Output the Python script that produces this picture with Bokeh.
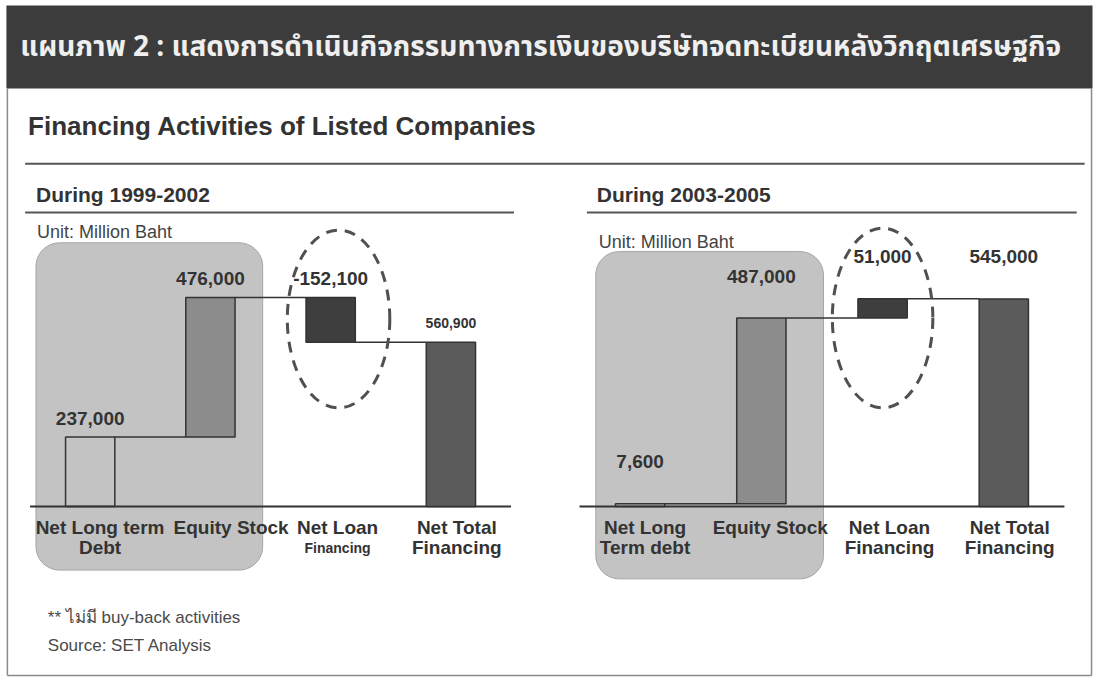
import numpy as np
from bokeh.plotting import figure
from bokeh.models import Range1d, ColumnDataSource
from bokeh.core.properties import value
from bokeh.embed import file_html
from bokeh.resources import INLINE

# ---------------- data ----------------
header_text = "แผนภาพ 2 : แสดงการดำเนินกิจกรรมทางการเงินของบริษัทจดทะเบียนหลังวิกฤตเศรษฐกิจ"
title_text = "Financing Activities of Listed Companies"
period_left = "During 1999-2002"
period_right = "During 2003-2005"
unit_text = "Unit: Million Baht"
categories_left = ["Net Long term\nDebt", "Equity Stock", "Net Loan\nFinancing", "Net Total\nFinancing"]
categories_right = ["Net Long\nTerm debt", "Equity Stock", "Net Loan\nFinancing", "Net Total\nFinancing"]
steps_left = [237000, 476000, -152100]
total_left = 560900
steps_right = [7600, 487000, 51000]
total_right = 545000
note_text = "**  ไม่มี buy-back activities"
source_text = "Source: SET Analysis"

# ---------------- layout ----------------
W, H = 1093, 679          # figure size (fits the window with the 8px page margin)
RW, RH = 1109, 695        # reference frame the layout coordinates refer to
FONT = value("Liberation Sans")
THAI = value("Noto Sans Thai")
TXT = "#333333"

p = figure(width=W, height=H, output_backend="svg", toolbar_location=None,
           x_axis_type=None, y_axis_type=None,
           x_range=Range1d(0, RW), y_range=Range1d(RH, 0),
           min_border=0, outline_line_color=None,
           background_fill_color="white", border_fill_color="white")
p.grid.visible = False

panels = [
    dict(name="L", cats=categories_left, steps=steps_left, total=total_left,
         x0=91, step=122, bar_w=50, scale=0.0003, base=518, lab_dy=-19,
         cat_dx=[10, 21, 7, 6], ell_dx=8,
         period=period_left, period_x=36, unit_x=37, unit_y=237,
         rect=(36, 248, 266, 583), uline=(25, 521), ell=(326, 104, 182),
         val_sizes=["19px", "19px", "19px", "14px"], small_second=[2]),
    dict(name="R", cats=categories_right, steps=steps_right, total=total_right,
         x0=649, step=123, bar_w=50, scale=0.00039, base=518, lab_dy=-42,
         cat_dx=[5, 9, 7, 6], ell_dx=0,
         period=period_right, period_x=605, unit_x=607, unit_y=247,
         rect=(604, 257, 835, 592), uline=(595, 1092), ell=(325, 102, 184),
         val_sizes=["19px", "19px", "19px", "19px"], small_second=[]),
]

x_ranges, y_ranges = {}, {}
for pn in panels:
    x_ranges[pn["name"]] = Range1d((0 - pn["x0"]) / pn["step"], (RW - pn["x0"]) / pn["step"])
    y_ranges[pn["name"]] = Range1d((pn["base"] - RH) / pn["scale"], (pn["base"] - 0) / pn["scale"])
p.extra_x_ranges = x_ranges
p.extra_y_ranges = y_ranges

# header band
p.quad(left=[6], right=[1108], top=[5], bottom=[90], fill_color="#3c3c3c", line_color=None)
p.text(x=[20], y=[48], text=[header_text], text_font=THAI, text_font_style="bold",
       text_font_size="28px", text_color="#efefef", text_align="left", text_baseline="middle")

# outer frame
p.segment(x0=[7, 7, 1107], y0=[90, 691, 90], x1=[7, 1107, 1107], y1=[691, 691, 691],
          line_color="#8a8a8a", line_width=1.5)

# title and rule
p.text(x=[28], y=[128], text=[title_text], text_font=FONT, text_font_style="bold",
       text_font_size="26px", text_color=TXT, text_align="left", text_baseline="alphabetic")
p.segment(x0=[25], y0=[167], x1=[1100], y1=[167], line_color="#555555", line_width=2)


def rounded_rect(x0, y0, x1, y1, r, n=14):
    xs, ys = [], []
    corners = [(x1 - r, y0 + r, -90, 0), (x1 - r, y1 - r, 0, 90),
               (x0 + r, y1 - r, 90, 180), (x0 + r, y0 + r, 180, 270)]
    for cx, cy, a0, a1 in corners:
        t = np.radians(np.linspace(a0, a1, n))
        xs += list(cx + r * np.cos(t))
        ys += list(cy + r * np.sin(t))
    return xs, ys


fills = ["#ffffff", "#8c8c8c", "#3e3e3e", "#5b5b5b"]
fill_alphas = [0.0, 1.0, 1.0, 1.0]

for pn in panels:
    nm = pn["name"]
    # subtitle + rule + unit
    p.text(x=[pn["period_x"]], y=[199], text=[pn["period"]], text_font=FONT, text_font_style="bold",
           text_font_size="21px", text_color=TXT, text_align="left", text_baseline="alphabetic")
    p.segment(x0=[pn["uline"][0]], y0=[217], x1=[pn["uline"][1]], y1=[217],
              line_color="#555555", line_width=2)
    p.text(x=[pn["unit_x"]], y=[pn["unit_y"]], text=[unit_text], text_font=FONT,
           text_font_size="18px", text_color="#444444", text_align="left", text_baseline="middle")

    # shaded rounded box
    rx, ry = rounded_rect(*pn["rect"], r=24)
    p.patch(rx, ry, fill_color="#c3c3c3", line_color="#a5a5a5", line_width=1)

    # waterfall geometry from data
    cum = np.concatenate([[0], np.cumsum(pn["steps"])])
    starts = list(cum[:-1]) + [0]
    ends = list(cum[1:]) + [pn["total"]]
    idx = list(range(len(pn["cats"])))
    w = pn["bar_w"] / pn["step"]
    bottoms = [min(a, b) for a, b in zip(starts, ends)]
    tops = [max(a, b) for a, b in zip(starts, ends)]

    # baseline
    p.segment(x0=[idx[0] - 0.5], y0=[0], x1=[idx[-1] + 0.5], y1=[0],
              x_range_name=nm, y_range_name=nm, line_color="#333333", line_width=2)

    src = ColumnDataSource(dict(x=idx, bottom=bottoms, top=tops, fill=fills, fa=fill_alphas))
    p.vbar(x="x", width=w, bottom="bottom", top="top", source=src,
           fill_color="fill", fill_alpha="fa", line_color="#333333", line_width=1.5,
           x_range_name=nm, y_range_name=nm)

    # connectors
    lev = list(cum[1:])
    p.segment(x0=[i + w / 2 for i in idx[:-1]], y0=lev, x1=[i + 1 - w / 2 for i in idx[:-1]], y1=lev,
              line_color="#333333", line_width=1.5, x_range_name=nm, y_range_name=nm)

    # value labels
    vals = list(pn["steps"]) + [pn["total"]]
    vsrc = ColumnDataSource(dict(x=idx, y=tops, t=[f"{v:,}" for v in vals], fs=pn["val_sizes"]))
    p.text(x="x", y="y", text="t", source=vsrc, text_font=FONT, text_font_style="bold",
           text_font_size="fs", text_color=TXT, text_align="center", text_baseline="middle",
           y_offset=pn["lab_dy"], x_range_name=nm, y_range_name=nm)

    # category labels (two lines)
    cx1, ct1, cx2, ct2, fs2 = [], [], [], [], []
    for i, c in enumerate(pn["cats"]):
        parts = c.split("\n")
        cx1.append(i + pn["cat_dx"][i] / pn["step"]); ct1.append(parts[0])
        if len(parts) > 1:
            cx2.append(i + pn["cat_dx"][i] / pn["step"]); ct2.append(parts[1])
            fs2.append("14px" if i in pn["small_second"] else "19px")
    p.text(x=cx1, y=[539] * len(cx1), text=ct1, text_font=FONT, text_font_style="bold",
           text_font_size="19px", text_color=TXT, text_align="center", text_baseline="middle",
           x_range_name=nm)
    s2 = ColumnDataSource(dict(x=cx2, y=[560] * len(cx2), t=ct2, fs=fs2))
    p.text(x="x", y="y", text="t", source=s2, text_font=FONT, text_font_style="bold",
           text_font_size="fs", text_color=TXT, text_align="center", text_baseline="middle",
           x_range_name=nm)

    # dashed highlight around the loan bar
    ey, ew, eh = pn["ell"]
    p.ellipse(x=[2 + pn["ell_dx"] / pn["step"]], y=[ey], width=[ew / pn["step"]], height=[eh],
              fill_color=None, line_color="#505050", line_width=3, line_dash="11 8",
              x_range_name=nm)

# footnotes
p.text(x=[48, 48], y=[632, 660], text=[note_text, source_text], text_font=FONT,
       text_font_size="17px", text_color="#4a4a4a", text_align="left", text_baseline="middle")

open("out.html", "w").write(file_html(p, INLINE))
